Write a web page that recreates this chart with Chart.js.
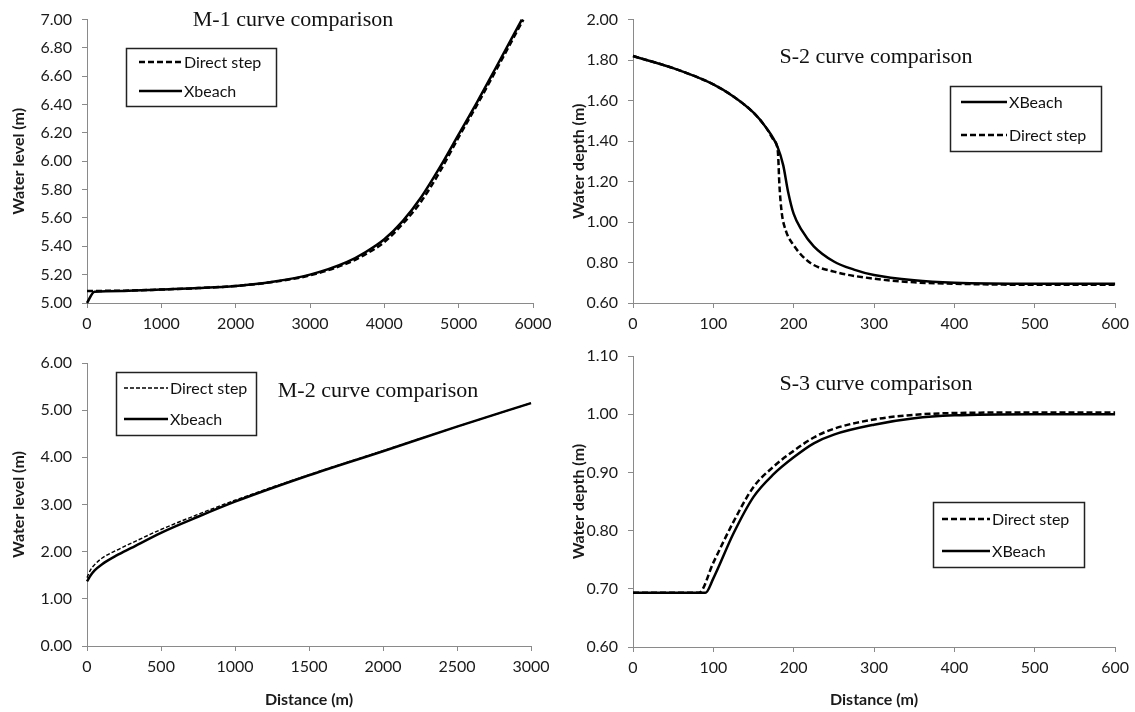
<!DOCTYPE html>
<html>
<head>
<meta charset="utf-8">
<script src="https://cdn.jsdelivr.net/npm/chart.js@4/dist/chart.umd.min.js"></script>
<style>
    body { margin: 0; background: #fff; }
    #wrap { position: relative; width: 1135px; height: 712px; overflow: hidden; }
    canvas { position: absolute; }
</style>
</head>
<body>
<div id="wrap">
    <canvas id="m1-chart" width="567" height="335" style="left:0;top:0"></canvas>
    <canvas id="s2-chart" width="568" height="335" style="left:567px;top:0"></canvas>
    <canvas id="m2-chart" width="567" height="377" style="left:0;top:335px"></canvas>
    <canvas id="s3-chart" width="568" height="377" style="left:567px;top:335px"></canvas>
</div>
<script>

// ---- M-1 curve (water level vs distance)
var m1DirectDist = [0, 500, 1000, 1500, 2000, 2500, 3000, 3500, 3750, 4000, 4250, 4500, 4750, 5000, 5250, 5500, 5870];
var m1Direct = [5.085, 5.087, 5.095, 5.105, 5.12, 5.148, 5.195, 5.28, 5.345, 5.43, 5.56, 5.72, 5.93, 6.17, 6.40, 6.64, 7.00];
var m1XbeachDist = [0, 100, 500, 1000, 1500, 2000, 2500, 3000, 3500, 3750, 4000, 4250, 4500, 4750, 5000, 5250, 5500, 5850];
var m1Xbeach = [5.00, 5.08, 5.085, 5.095, 5.105, 5.12, 5.15, 5.20, 5.29, 5.36, 5.45, 5.58, 5.75, 5.96, 6.19, 6.42, 6.66, 7.00];

// ---- S-2 curve (water depth vs distance)
var s2XbeachDist = [0, 50, 100, 125, 150, 165, 180, 187, 193, 200, 210, 225, 250, 275, 300, 350, 400, 500, 600];
var s2Xbeach = [1.82, 1.76, 1.68, 1.62, 1.54, 1.47, 1.37, 1.28, 1.15, 1.04, 0.96, 0.88, 0.805, 0.765, 0.738, 0.712, 0.70, 0.695, 0.695];
var s2DirectDist = [0, 50, 100, 125, 150, 165, 175, 180, 181, 182, 185, 190, 200, 220, 250, 300, 350, 400, 500, 600];
var s2Direct = [1.82, 1.76, 1.68, 1.62, 1.54, 1.47, 1.405, 1.36, 1.30, 1.20, 1.05, 0.96, 0.885, 0.80, 0.755, 0.72, 0.702, 0.695, 0.69, 0.69];

// ---- M-2 curve
var m2Dist = [0, 25, 50, 100, 200, 300, 500, 750, 1000, 1500, 2000, 2500, 3000];
var m2Direct = [1.45, 1.62, 1.72, 1.86, 2.03, 2.18, 2.47, 2.79, 3.09, 3.63, 4.14, 4.65, 5.15];
var m2Xbeach = [1.37, 1.50, 1.60, 1.73, 1.92, 2.08, 2.40, 2.74, 3.06, 3.62, 4.13, 4.65, 5.15];

// ---- S-3 curve
var s3DirectDist = [0, 82, 100, 125, 150, 175, 200, 225, 250, 300, 350, 400, 500, 600];
var s3Direct = [0.693, 0.693, 0.745, 0.815, 0.875, 0.91, 0.937, 0.96, 0.975, 0.991, 0.999, 1.002, 1.003, 1.003];
var s3XbeachDist = [0, 90, 100, 125, 150, 175, 200, 225, 250, 300, 350, 400, 500, 600];
var s3Xbeach = [0.693, 0.693, 0.718, 0.795, 0.858, 0.897, 0.926, 0.95, 0.965, 0.982, 0.993, 0.998, 1.0, 1.0];

var tickFont = { family: 'Lato', size: 16 };
var axisTitleFont = { family: 'Lato', size: 16, weight: 'bold' };
var axisGray = '#8a8a8a';

function toPoints(xs, ys) {
    var pts = [];
    for (var i = 0; i < xs.length; i++) {
        pts.push({ x: xs[i], y: ys[i] });
    }
    return pts;
}

// draws the serif panel title and the boxed legend (Excel style)
var panelDecor = {
    id: 'panelDecor',
    afterDraw: function (chart, args, opts) {
        var ctx = chart.ctx;
        ctx.save();
        if (opts.title) {
            ctx.fillStyle = '#111';
            ctx.font = '22px "Liberation Serif", "Times New Roman", serif';
            ctx.textAlign = 'center';
            ctx.textBaseline = 'middle';
            ctx.fillText(opts.title.text, opts.title.x, opts.title.y);
        }
        var lg = opts.legend;
        if (lg) {
            ctx.fillStyle = '#fff';
            ctx.fillRect(lg.x, lg.y, lg.w, lg.h);
            ctx.strokeStyle = '#222';
            ctx.lineWidth = 1.5;
            ctx.strokeRect(lg.x + 0.5, lg.y + 0.5, lg.w, lg.h);
            ctx.font = '16px Lato';
            ctx.textAlign = 'left';
            ctx.textBaseline = 'middle';
            for (var i = 0; i < lg.rows.length; i++) {
                var ds = chart.data.datasets[lg.rows[i]];
                var ry = lg.y + lg.rowY[i];
                ctx.beginPath();
                ctx.strokeStyle = '#000';
                ctx.lineWidth = ds.borderWidth;
                ctx.setLineDash(ds.borderDash || []);
                ctx.moveTo(lg.x + lg.sx, ry);
                ctx.lineTo(lg.x + lg.sx + lg.sw, ry);
                ctx.stroke();
                ctx.setLineDash([]);
                ctx.fillStyle = '#111';
                ctx.fillText(ds.label, lg.x + lg.sx + lg.sw + 2, ry + 1);
            }
        }
        ctx.restore();
    }
};

function lineSet(label, pts, dashed, width, dash) {
    return {
        label: label,
        data: pts,
        borderColor: '#000',
        borderWidth: width,
        borderDash: dashed ? dash : [],
        pointRadius: 0,
        fill: false,
        showLine: true,
        cubicInterpolationMode: 'monotone',
        clip: 4
    };
}

function MakePanel(canvasId, datasets, p) {
    var ctx = document.getElementById(canvasId).getContext('2d');
    return new Chart(ctx, {
        type: 'scatter',
        data: { datasets: datasets },
        options: {
            responsive: false,
            animation: false,
            devicePixelRatio: 1,
            layout: { padding: { top: p.padTop, right: p.padRight, bottom: 0, left: 0 } },
            plugins: {
                legend: { display: false },
                tooltip: { enabled: false },
                panelDecor: { title: p.title, legend: p.legend }
            },
            scales: {
                x: {
                    type: 'linear',
                    min: p.xMin, max: p.xMax,
                    ticks: {
                        stepSize: p.xStep, font: tickFont, color: '#1a1a1a', padding: 6, maxRotation: 0,
                        callback: function (v) { return String(v); }
                    },
                    grid: { drawOnChartArea: false, color: axisGray, tickLength: 5 },
                    border: { color: axisGray, width: 1 },
                    title: { display: p.xTitle != null, text: p.xTitle, font: axisTitleFont, color: '#1a1a1a', padding: { top: 0, bottom: 3 } },
                    afterFit: function (scale) { scale.height = p.xHeight; }
                },
                y: {
                    type: 'linear',
                    min: p.yMin, max: p.yMax,
                    ticks: {
                        stepSize: p.yStep, font: tickFont, color: '#1a1a1a', padding: 10,
                        callback: function (v) { return v.toFixed(2); }
                    },
                    grid: { drawOnChartArea: false, color: axisGray, tickLength: 5 },
                    border: { color: axisGray, width: 1 },
                    title: { display: true, text: p.yTitle, font: axisTitleFont, color: '#1a1a1a', padding: { top: p.yTitlePad, bottom: 0 } },
                    afterFit: function (scale) { scale.width = p.yWidth; }
                }
            }
        },
        plugins: [panelDecor]
    });
}

MakePanel('m1-chart', [
    lineSet('Direct step', toPoints(m1DirectDist, m1Direct), true, 2.5, [6, 3]),
    lineSet('Xbeach', toPoints(m1XbeachDist, m1Xbeach), false, 2.5)
], {
    xMin: 0, xMax: 6000, xStep: 1000, yMin: 5, yMax: 7, yStep: 0.2,
    yTitle: 'Water level (m)', xTitle: null, yTitlePad: 9,
    padTop: 14, padRight: 34, xHeight: 32, yWidth: 87,
    title: { text: 'M-1 curve comparison', x: 293, y: 20 },
    legend: { x: 126, y: 48, w: 150, h: 58, sx: 13, sw: 43, rowY: [14, 43], rows: [0, 1] }
});

MakePanel('s2-chart', [
    lineSet('XBeach', toPoints(s2XbeachDist, s2Xbeach), false, 2.5),
    lineSet('Direct step', toPoints(s2DirectDist, s2Direct), true, 2.5, [6, 3])
], {
    xMin: 0, xMax: 600, xStep: 100, yMin: 0.6, yMax: 2.0, yStep: 0.2,
    yTitle: 'Water depth (m)', xTitle: null, yTitlePad: 2,
    padTop: 15, padRight: 18, xHeight: 32, yWidth: 66,
    title: { text: 'S-2 curve comparison', x: 309, y: 57 },
    legend: { x: 383, y: 86, w: 151, h: 65, sx: 11, sw: 46, rowY: [16, 49], rows: [0, 1] }
});

MakePanel('m2-chart', [
    lineSet('Direct step', toPoints(m2Dist, m2Direct), true, 1.4, [4, 2]),
    lineSet('Xbeach', toPoints(m2Dist, m2Xbeach), false, 2.5)
], {
    xMin: 0, xMax: 3000, xStep: 500, yMin: 0, yMax: 6, yStep: 1,
    yTitle: 'Water level (m)', xTitle: 'Distance (m)', yTitlePad: 9,
    padTop: 28, padRight: 36, xHeight: 66, yWidth: 87,
    title: { text: 'M-2 curve comparison', x: 378, y: 56 },
    legend: { x: 116, y: 37, w: 140, h: 63, sx: 8, sw: 44, rowY: [16, 47], rows: [0, 1] }
});

MakePanel('s3-chart', [
    lineSet('Direct step', toPoints(s3DirectDist, s3Direct), true, 2.5, [6, 3]),
    lineSet('XBeach', toPoints(s3XbeachDist, s3Xbeach), false, 2.5)
], {
    xMin: 0, xMax: 600, xStep: 100, yMin: 0.6, yMax: 1.1, yStep: 0.1,
    yTitle: 'Water depth (m)', xTitle: 'Distance (m)', yTitlePad: 2,
    padTop: 21, padRight: 18, xHeight: 65, yWidth: 66,
    title: { text: 'S-3 curve comparison', x: 309, y: 49 },
    legend: { x: 366, y: 167, w: 151, h: 65, sx: 9, sw: 48, rowY: [17, 49], rows: [0, 1] }
});

</script>
</body>
</html>
